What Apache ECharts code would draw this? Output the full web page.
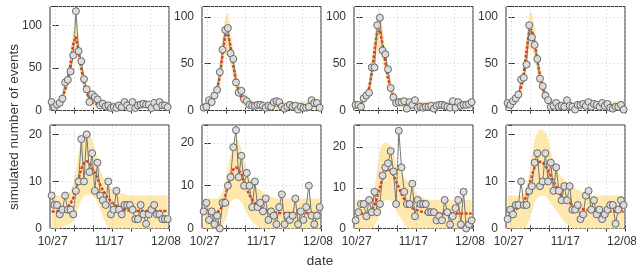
<!DOCTYPE html>
<html>
<head>
<meta charset="utf-8">
<script src="https://cdn.jsdelivr.net/npm/echarts@6/dist/echarts.min.js"></script>
<style>
html, body { margin: 0; padding: 0; background: #fff; }
#chart { width: 636px; height: 271px; }
</style>
</head>
<body>
<div id="chart"></div>
<script>
// x axis: days after 10/27
var tickDays = [0, 7, 14, 21, 28, 35, 42];
var labelDays = [0, 21, 42];
var dateLabels = ['10/27', '11/17', '12/08'];
var firstDay = -1.5;

// top row (4 panels)
var events1 = [10,4,7,9,14,33,36,46,65,117,70,58,37,25,10,19,16,13,6,8,5,6,3,4,3,6,4,10,6,3,10,3,6,7,8,7,7,3,9,4,10,6,6,4];
var median1 = [5,6,8,11,16,24,36,55,78,87,70,50,33,21,14,10,8,7,6,6,5,5,5,5,5,5,5,5,5,5,5,5,5,5,5,5,5,5,5,5,5,5,5,5];
var upper1  = [9,10,12,16,22,32,46,70,96,108,88,64,44,30,21,16,13,12,11,10,10,10,10,10,10,10,10,10,10,10,10,10,10,10,10,10,10,10,10,10,10,10,10,10];
var lower1  = [2,3,4,7,11,17,27,42,62,68,54,38,24,14,9,6,4,3,2,2,2,2,2,2,2,2,2,2,2,2,2,2,2,2,2,2,2,2,2,2,2,2,2,2];

var events2 = [3,4,11,9,16,22,41,65,86,88,61,55,30,19,21,12,10,6,5,5,6,6,5,3,5,4,9,10,9,4,2,4,6,4,5,1,4,3,3,4,11,8,8,3];
var median2 = [4,5,7,10,15,23,36,60,80,82,68,48,32,21,14,10,8,7,6,6,5,5,5,5,5,5,5,5,5,5,5,5,5,5,5,5,5,5,5,5,5,5,5,5];
var upper2  = [8,9,11,15,21,31,50,78,100,104,88,64,44,30,21,16,13,12,11,10,10,10,10,10,10,10,10,10,10,10,10,10,10,10,10,10,10,10,10,10,10,10,10,10];
var lower2  = [1,2,3,5,9,15,24,43,60,62,50,34,21,13,8,5,3,2,2,1,1,1,1,1,1,1,1,1,1,1,1,1,1,1,1,1,1,1,1,1,1,1,1,1];

var events3 = [6,6,4,13,16,19,46,46,91,99,64,60,44,24,14,8,9,9,10,2,9,6,11,3,4,3,4,4,5,2,5,6,6,5,4,3,10,3,9,5,6,6,7,9];
var median3 = [5,6,7,10,15,24,40,64,84,86,70,52,35,23,15,11,8,7,6,6,5,5,5,5,5,5,5,5,5,5,5,5,5,5,5,5,5,5,5,5,5,5,5,5];
var upper3  = [9,10,12,16,22,33,53,81,104,106,88,66,46,32,22,17,13,12,11,10,10,10,10,10,10,10,10,10,10,10,10,10,10,10,10,10,10,10,10,10,10,10,10,10];
var lower3  = [2,2,3,5,9,16,28,48,64,66,53,38,24,15,9,6,4,3,2,2,2,2,2,2,2,2,2,2,2,2,2,2,2,2,2,2,2,2,2,2,2,2,2,2];

var events4 = [8,6,10,13,17,33,35,49,91,78,70,55,34,26,16,11,4,5,8,4,5,4,11,5,4,1,6,6,7,5,9,4,7,6,4,8,5,7,3,2,4,4,6,1];
var median4 = [5,6,8,11,16,25,40,63,85,86,72,54,37,24,16,11,8,7,6,6,5,5,5,5,5,5,5,5,5,5,5,5,5,5,5,5,5,5,5,5,5,5,5,5];
var upper4  = [9,10,12,16,22,34,53,80,104,105,90,68,48,33,23,17,13,12,11,10,10,10,10,10,10,10,10,10,10,10,10,10,10,10,10,10,10,10,10,10,10,10,10,10];
var lower4  = [2,2,3,6,10,16,28,47,65,66,55,40,26,16,10,6,4,3,2,2,2,2,2,2,2,2,2,2,2,2,2,2,2,2,2,2,2,2,2,2,2,2,2,2];

// bottom row (4 panels)
var events5 = [7,5,5,3,4,7,4,4,3,8,10,19,10,20,12,16,8,14,7,6,5,10,3,4,8,4,3,5,5,5,4,2,2,5,3,1,3,4,5,3,3,2,2,2];
var median5 = [3.6,3.6,3.6,3.6,3.7,3.9,4.5,5.3,6.4,8.2,10.6,12.7,13.9,14.3,14.0,13.0,11.9,10.6,9.3,8.1,7.2,6.4,5.7,5.2,4.8,4.5,4.2,4.0,3.9,3.8,3.8,3.7,3.7,3.7,3.7,3.7,3.7,3.7,3.7,3.7,3.7,3.7,3.7,3.7];
var upper5  = [7,7,7,7,7,7,7.2,8,9.5,12.5,16,19,20.5,21,20.5,19,17,15,12.5,11,10,9,8.5,8,8,7.5,7.5,7.5,7,7,7,7,7,7,7,7,7,7,7,7,7,7,7,7];
var lower5  = [0,0,0,0,0.3,0.6,0.8,1,1.5,3,4.5,6,7,7.2,7.2,7,6.5,5.5,4,2.5,1.2,0.3,0,0,0,0,0,0,0,0,0,0,0,0,0,0,0,0,0,0,0,0,0,0];

var events6 = [4,6,2,4,1,3,0,6,6,10,12,19,23,12,17,10,13,10,5,11,5,6,4,7,2,4,3,1,5,8,1,3,2,3,7,1,4,2,5,10,3,1,3,5];
var median6 = [3.6,3.6,3.6,3.6,3.6,3.8,4.3,5.3,7.5,10,12,13.8,14.3,13.8,12.6,11,9.3,7.8,6.8,6,5.3,4.9,4.6,4.3,4.1,3.9,3.8,3.7,3.6,3.6,3.6,3.6,3.6,3.6,3.6,3.6,3.6,3.6,3.6,3.6,3.6,3.6,3.6,3.6];
var upper6  = [7,7,7,7,7,7,7.5,8.5,10.5,14,17.5,20,21,20.5,18.5,16,13.5,12,11,10,9.5,9,8.5,8,7.8,7.5,7.2,7,7,7,7,7,7,7,7,7,7,7,7,7,7,7,7,7];
var lower6  = [0,0,0,0,0,0,0,0.5,2,4,6,6.8,7,6.8,6,5,3.5,2.5,1.5,1,0.5,0,0,0,0,0,0,0,0,0,0,0,0,0,0,0,0,0,0,0,0,0,0,0];

var events7 = [2,4,6,6,3,7,4,9,4,6,13,15,16,19,14,6,24,15,9,6,6,11,3,7,6,6,6,4,4,4,2,3,2,7,4,1,3,5,7,1,9,0,1,2];
var median7 = [3.7,3.7,3.7,3.7,3.7,4,4.5,5.8,7.5,10,12.4,13.9,14.6,14.2,13,11.6,10,8.5,7.2,6.2,5.5,5,4.7,4.4,4.2,4,3.9,3.8,3.7,3.7,3.7,3.7,3.7,3.7,3.7,3.7,3.7,3.7,3.7,3.7,3.7,3.7,3.7,3.7];
var upper7  = [7,7,7,7,7,7,7.6,10,14.5,19.5,20.8,21.1,21.1,20.3,18.5,16,14.7,13.6,12.5,11.8,10.8,9.8,9,8.4,8,7.6,7.3,7.1,7,7,7,7,7,7,7,7,7,7,7,7,7,7,7,7];
var lower7  = [0,0,0,0,0,0,0,0.5,2,4,6,7,7.1,6.8,5.8,4.5,3.2,2.2,1,0,0,0,0,0,0,0,0,0,0,0,0,0,0,0,0,0,0,0,0,0,0,0,0,0];

var events8 = [2,4,3,5,5,10,5,5,8,9,14,16,9,10,16,10,14,8,13,8,6,9,6,9,4,4,5,2,3,7,8,4,6,3,4,2,3,4,5,5,1,4,6,5];
var median8 = [3.6,3.6,3.6,4,4.4,4.8,5.6,7,9.3,11.3,13,14,14.2,14,13.4,12.4,11.2,10,8.9,7.6,6.9,6.3,5.8,5.4,5,4.7,4.5,4.3,4.1,4,3.9,3.8,3.8,3.7,3.6,3.6,3.6,3.6,3.6,3.6,3.6,3.6,3.6,3.6];
var upper8  = [7,7,7,7,7,7,7.5,9.3,11.8,15.5,19,20.5,21,21,20.5,19,16.3,14.2,12.8,11.8,11,10.3,9.8,9.3,8.9,8.6,8.3,8,7.8,7.6,7.4,7.2,7,7,7,7,7,7,7,7,7,7,7,7];
var lower8  = [0,0,0,0,0,0,0,0.3,1.8,3.5,5.5,6.5,6.9,7,6.8,6.3,5.3,4.6,3.7,3,2.2,1.5,1,0.5,0,0,0,0,0,0,0,0,0,0,0,0,0,0,0,0,0,0,0,0];

var yMax = [122.5, 111, 111, 111, 22, 24.2, 25.4, 22];
var yStep = [50, 50, 50, 50, 10, 10, 10, 10];

var panels = [
  [events1, median1, lower1, upper1], [events2, median2, lower2, upper2],
  [events3, median3, lower3, upper3], [events4, median4, lower4, upper4],
  [events5, median5, lower5, upper5], [events6, median6, lower6, upper6],
  [events7, median7, lower7, upper7], [events8, median8, lower8, upper8]
];

var days = events1.map(function (v, k) { return firstDay + k; });
function pts(arr) {
  return arr.map(function (v, k) { return [days[k], v]; });
}

var font = '"Liberation Sans", Arial, sans-serif';
var bandColor = '#fee8ad';
var redColor = '#dd3d1e';
var frameColor = '#333';
var gridLine = { type: [1, 3], color: '#cccccc', width: 1 };

var chart = echarts.init(document.getElementById('chart'));
var grids = [], xAxes = [], yAxes = [], series = [];

panels.forEach(function (p, i) {
  var row = Math.floor(i / 4), col = i % 4;
  grids.push({
    left: 50 + col * 152, top: row ? 125 : 6.5, width: 119, height: row ? 103.5 : 104,
    show: true, borderColor: frameColor, borderWidth: 1, backgroundColor: 'transparent',
    containLabel: false, outerBoundsMode: 'none'
  });
  // bottom x axis + mirrored top ticks
  xAxes.push({
    gridIndex: i, type: 'value', min: -2.1, max: 42,
    axisLine: { show: false },
    axisTick: { inside: true, length: 3, customValues: tickDays, lineStyle: { color: frameColor } },
    axisLabel: {
      show: row === 1, customValues: labelDays, margin: 7, color: '#333', fontSize: 12, fontFamily: font,
      padding: [0, 6, 0, 0],
      formatter: function (v) { return dateLabels[labelDays.indexOf(v)]; }
    },
    splitLine: { show: false }
  });
  xAxes.push({
    gridIndex: i, type: 'value', position: 'top', min: -2.1, max: 42,
    axisLine: { show: false },
    axisTick: { inside: true, length: 3, customValues: tickDays, lineStyle: { color: frameColor } },
    axisLabel: { show: false }, splitLine: { show: false }
  });
  yAxes.push({
    gridIndex: i, type: 'value', min: 0, max: yMax[i], interval: yStep[i],
    axisLine: { show: false },
    axisTick: { inside: true, length: 3, lineStyle: { color: frameColor } },
    axisLabel: { margin: 8, color: '#333', fontSize: 12, fontFamily: font, showMaxLabel: false },
    splitLine: { show: true, lineStyle: gridLine }
  });
  yAxes.push({
    gridIndex: i, type: 'value', position: 'right', min: 0, max: yMax[i], interval: yStep[i],
    axisLine: { show: false },
    axisTick: { inside: true, length: 3, lineStyle: { color: frameColor } },
    axisLabel: { show: false }, splitLine: { show: false }
  });

  var obs = p[0], med = p[1], lo = p[2], hi = p[3];
  // weekly vertical grid lines
  series.push({
    type: 'line', xAxisIndex: 2 * i, yAxisIndex: 2 * i, data: [], z: 0, silent: true,
    markLine: {
      silent: true, symbol: ['none', 'none'], label: { show: false },
      lineStyle: gridLine, animation: false,
      data: tickDays.map(function (d) { return { xAxis: d }; })
    }
  });
  // confidence band
  series.push({
    type: 'custom', xAxisIndex: 2 * i, yAxisIndex: 2 * i, silent: true, z: 1,
    data: [[0, 0]],
    renderItem: function (params, api) {
      var poly = [];
      for (var k = 0; k < hi.length; k++) poly.push(api.coord([days[k], hi[k]]));
      for (var k2 = lo.length - 1; k2 >= 0; k2--) poly.push(api.coord([days[k2], lo[k2]]));
      return { type: 'polygon', shape: { points: poly }, style: { fill: bandColor } };
    }
  });
  // median
  series.push({
    type: 'line', xAxisIndex: 2 * i, yAxisIndex: 2 * i, data: pts(med), z: 2,
    symbol: 'none', silent: true,
    lineStyle: { color: redColor, width: 2.5, type: [3, 1.5] }
  });
  // observed counts
  series.push({
    type: 'line', xAxisIndex: 2 * i, yAxisIndex: 2 * i, data: pts(obs), z: 3,
    symbol: 'circle', symbolSize: 7, showAllSymbol: true,
    lineStyle: { color: '#777', width: 1 },
    itemStyle: { color: '#dcdcdc', borderColor: '#666', borderWidth: 1 }
  });
});

chart.setOption({
  animation: false,
  grid: grids,
  xAxis: xAxes,
  yAxis: yAxes,
  series: series,
  graphic: [
    {
      type: 'text', x: 14, y: 127, rotation: Math.PI / 2,
      style: { text: 'simulated number of events', font: '13.5px ' + font, fill: '#333',
               textAlign: 'center', textVerticalAlign: 'middle', align: 'center', verticalAlign: 'middle' }
    },
    {
      type: 'text', x: 320, y: 261,
      style: { text: 'date', font: '13.5px ' + font, fill: '#333',
               textAlign: 'center', textVerticalAlign: 'middle', align: 'center', verticalAlign: 'middle' }
    }
  ]
});

window.addEventListener('resize', function () {
  chart.resize();
});
</script>
</body>
</html>
